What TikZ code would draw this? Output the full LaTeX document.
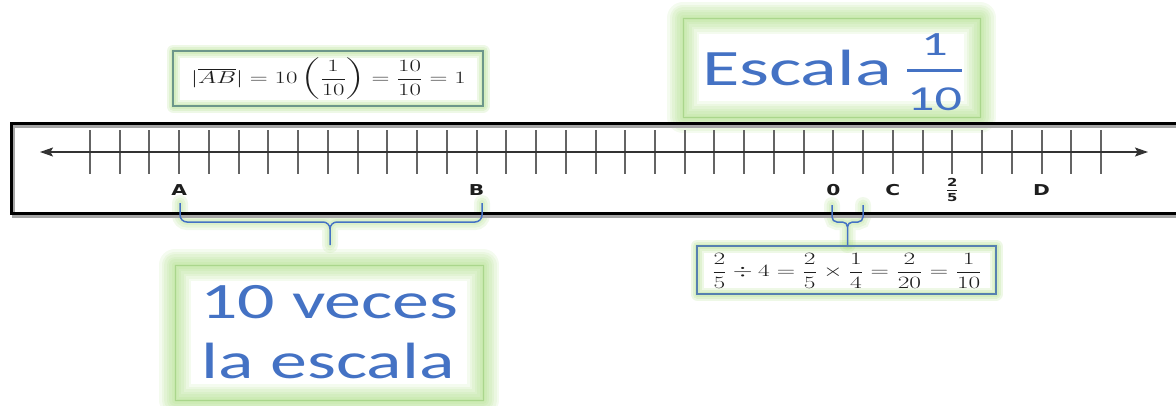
\documentclass[tikz,border=0pt]{standalone}
\usepackage{amsmath}
\usepackage{fontspec}
\usepackage{graphicx}
\usetikzlibrary{arrows.meta,backgrounds}

\newfontfamily\calib{Carlito}
\newfontfamily\lblfont{DejaVu Sans}

\definecolor{offblue}{RGB}{68,114,196}
\definecolor{glowgreen}{RGB}{150,212,100}
\definecolor{softgreen}{RGB}{170,214,140}
\definecolor{tealgray}{RGB}{108,150,138}
\definecolor{steelblue}{RGB}{86,128,176}
\definecolor{tickgray}{RGB}{100,100,100}
\definecolor{inkgray}{RGB}{30,30,30}

% horizontally widened text
\newcommand\widen[2][1.4]{\scalebox{#1}[1]{#2}}

\tikzset{
  every node/.style={inner sep=0pt, outer sep=0pt},
  panel/.style={draw=softgreen, line width=1pt},
  eqpanel/.style={line width=1.8pt},
  tickmark/.style={draw=tickgray, line width=2pt},
  axisline/.style={draw=black!80, line width=1.3pt},
  ptlabel/.style={font=\lblfont\bfseries\fontsize{15}{15}\selectfont, text=inkgray},
  bigword/.style={font=\calib\fontsize{51}{51}\selectfont, text=offblue, anchor=base},
  eqtext/.style={text=inkgray, font=\fontsize{17.28}{17.28}\selectfont},
  bracestyle/.style={draw=offblue, line width=1.5pt, rounded corners=7pt},
  smallbrace/.style={draw=offblue, line width=1.5pt, rounded corners=5pt},
}

\begin{document}
\begin{tikzpicture}[x=1pt,y=-1pt]
\path[clip] (0,0) rectangle (1176,405);

% frame with its shadow
\draw[black!35, line width=3pt] (13,126.5) rectangle (1200,216.5);
\draw[black, line width=3pt] (11,123) rectangle (1200,213);

% number line
\coordinate (axL) at (40,152);
\coordinate (axR) at (1148,152);
\foreach \i in {0,...,34}
  \draw[tickmark] ({90+\i*29.735},130) -- ++(0,44);
\draw[axisline, {Stealth[length=13pt,width=9pt,inset=2.5pt]}-{Stealth[length=13pt,width=9pt,inset=2.5pt]}] (axL) -- (axR);

% point labels
\node[ptlabel] (lA) at (179.2,190) {\widen[1.35]{A}};
\node[ptlabel] (lB) at (476.6,190) {\widen[1.35]{B}};
\node[ptlabel] (l0) at (833.4,190) {\widen[1.35]{0}};
\node[ptlabel] (lC) at (892.8,190) {\widen[1.35]{C}};
\node[ptlabel] (lF) at (952.3,190) {\fontsize{11}{11}\selectfont\widen[1.35]{$\genfrac{}{}{0.9pt}{0}{\text{2}}{\text{5}}$}};
\node[ptlabel] (lD) at (1041.5,190) {\widen[1.35]{D}};

% panels
\node[panel, minimum width=297pt, minimum height=99pt] (escbox) at (831.5,67.5) {};
\node[panel, minimum width=308pt, minimum height=135pt] (vecesbox) at (329,332.5) {};
\node[eqpanel, draw=tealgray, minimum width=310pt, minimum height=55pt] (f1box) at (328,78.5) {};
\node[eqpanel, draw=steelblue, minimum width=299pt, minimum height=48pt] (f2box) at (846.5,270) {};

% panel texts
\node[bigword, anchor=base west] (esctxt) at (702,85) {\widen[1.5]{Escala}};
\node[bigword, font=\calib\fontsize{34}{34}\selectfont] (escnum) at (934.5,55) {\widen[1.55]{1}};
\node[bigword, font=\calib\fontsize{35}{35}\selectfont] (escden) at (934.5,110) {\widen[1.55]{10}};
\draw[offblue, line width=3pt] (escden.west |- 0,70) -- (escden.east |- 0,70);
\node[bigword] (veces1) at (329.5,318) {\widen[1.45]{10 veces}};
\node[bigword] (veces2) at (328,378) {\widen[1.45]{la escala}};
\node[eqtext] (f1txt) at (328.5,79) {\widen[1.44]{$\displaystyle |\overline{AB}| = 10\left(\frac{1}{10}\right) = \frac{10}{10} = 1$}};
\node[eqtext] (f2txt) at (847,271) {\widen[1.47]{$\displaystyle \frac{2}{5}\div 4 = \frac{2}{5}\times\frac{1}{4} = \frac{2}{20} = \frac{1}{10}$}};

% braces
\coordinate (bAl) at (180,203);
\coordinate (bAr) at (482,203);
\coordinate (bAm) at (330,222);
\coordinate (bAt) at (330,245);
\coordinate (bCl) at (832,205);
\coordinate (bCr) at (863,205);
\coordinate (bCm) at (847.5,222);
\coordinate (bCt) at (847.5,245);
\draw[bracestyle] (bAl) |- (bAm) -- (bAt) (bAr) |- (bAm) -- (bAt);
\draw[smallbrace] (bCl) |- (bCm) -- (bCt) (bCr) |- (bCm) -- (bCt);

% soft green halos
\begin{scope}[on background layer]
  \foreach \n in {escbox,vecesbox}
    \foreach \w in {32,27,22,17,12,7,3}
      \draw[glowgreen, line width=\w pt, opacity=0.1, line join=round]
        (\n.south west) rectangle (\n.north east);
  \foreach \n in {f1box,f2box}
    \foreach \w in {13,9,5}
      \draw[glowgreen, line width=\w pt, opacity=0.16, line join=round]
        (\n.south west) rectangle (\n.north east);
  \foreach \w in {16,11,6} {
    \draw[glowgreen, line width=\w pt, opacity=0.13, rounded corners=7pt, line cap=round]
      (bAl) |- (bAm) -- (bAt) (bAr) |- (bAm) -- (bAt);
    \draw[glowgreen, line width=\w pt, opacity=0.13, rounded corners=5pt, line cap=round]
      (bCl) |- (bCm) -- (bCt) (bCr) |- (bCm) -- (bCt);
  }
\end{scope}
\end{tikzpicture}
\end{document}
